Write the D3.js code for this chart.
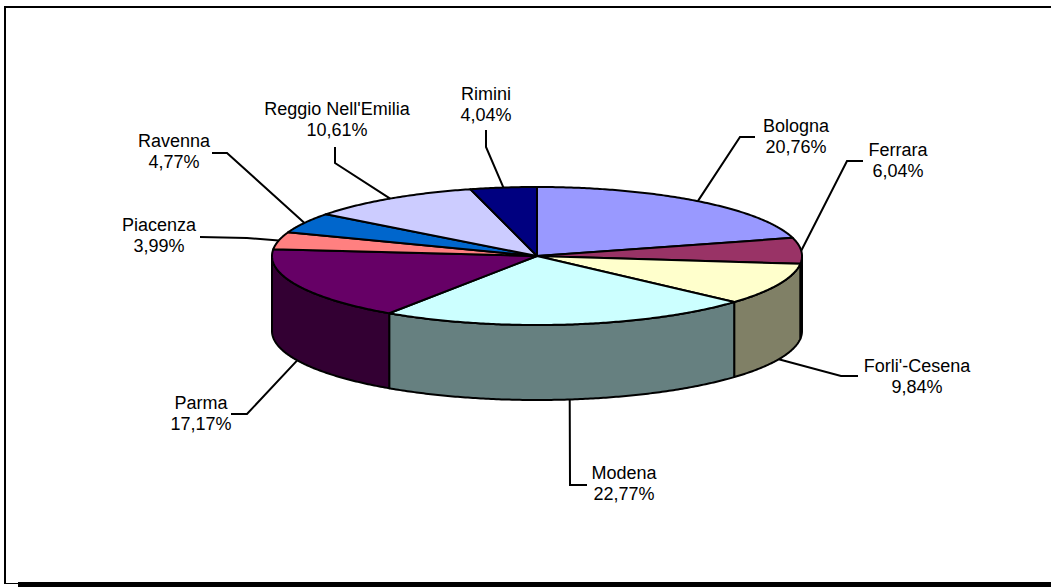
<!DOCTYPE html>
<html>
<head>
<meta charset="utf-8">
<script src="https://cdn.jsdelivr.net/npm/d3@7/dist/d3.min.js"></script>
<style>
html,body{margin:0;padding:0;background:#fff;}
svg{display:block;}
text{font-family:"Liberation Sans",Arial,sans-serif;font-size:18px;fill:#000;}
</style>
</head>
<body>
<svg id="chart" width="1051" height="587"></svg>
<script>
// ---- data ----
const categories = ["Bologna","Ferrara","Forli'-Cesena","Modena","Parma","Piacenza","Ravenna","Reggio Nell'Emilia","Rimini"];
const values = [20.76, 6.04, 9.84, 22.77, 17.17, 3.99, 4.77, 10.61, 4.04];
const topColors = ["#9999FF","#993366","#FFFFCC","#CCFFFF","#660066","#FF8080","#0066CC","#CCCCFF","#000080"];
const sideColors = ["#4D4D80","#4D1A33","#808066","#668080","#330033","#804040","#003366","#666680","#000040"];

// ---- label layout (text centre x, first baseline y, elbow, end of leader) ----
const labelLayout = [
  {tx:796, ty:132, elbow:[740,137], end:[755,137]},
  {tx:898, ty:156, elbow:[847,161], end:[863,161]},
  {tx:917, ty:372, elbow:[841,376], end:[858,376]},
  {tx:624, ty:479, elbow:[570,485], end:[587,485]},
  {tx:201, ty:409, elbow:[247,414], end:[231,414]},
  {tx:159, ty:231, elbow:[247,238], end:[200,237]},
  {tx:174, ty:147, elbow:[227,153], end:[212,153]},
  {tx:337, ty:115, elbow:[335,163], end:[335,147]},
  {tx:486, ty:100, elbow:[486,147], end:[486,130]}
];

const W = 1051, H = 587;
const svg = d3.select("#chart");

// frame
svg.append("line").attr("x1",5).attr("y1",7).attr("x2",W).attr("y2",7).attr("stroke","#000").attr("stroke-width",2);
svg.append("line").attr("x1",5).attr("y1",6).attr("x2",5).attr("y2",584).attr("stroke","#000").attr("stroke-width",2);
svg.append("line").attr("x1",5).attr("y1",583.5).attr("x2",18).attr("y2",583.5).attr("stroke","#000").attr("stroke-width",1);
svg.append("rect").attr("x",18).attr("y",582).attr("width",W-18).attr("height",5).attr("fill","#000");

// pie geometry
const cx = 537, cy = 256, rx = 265, ry = 69, depth = 75;
const px = a => cx + rx * Math.sin(a);
const py = a => cy - ry * Math.cos(a);

const pie = d3.pie().sort(null).value(d => d.v).startAngle(0).endAngle(2*Math.PI);
const data = categories.map((c,i) => ({name:c, v:values[i], i}));
const arcs = pie(data);

const color = d3.scaleOrdinal().domain(categories).range(topColors);
const sideColor = d3.scaleOrdinal().domain(categories).range(sideColors);

const line = d3.line();
function arcPts(a0, a1, dy) {
  const n = Math.max(2, Math.ceil(Math.abs(a1 - a0) / 0.01));
  return d3.range(n + 1).map(k => {
    const a = a0 + (a1 - a0) * k / n;
    return [px(a), py(a) + dy];
  });
}

// sides (front half only)
const gSide = svg.append("g");
arcs.forEach(d => {
  const a0 = Math.max(d.startAngle, Math.PI/2);
  const a1 = Math.min(d.endAngle, 3*Math.PI/2);
  if (a1 <= a0) return;
  const pts = arcPts(a0, a1, 0).concat(arcPts(a1, a0, depth));
  gSide.append("path")
    .attr("d", line(pts) + "Z")
    .attr("fill", sideColor(d.data.name))
    .attr("stroke", "#000").attr("stroke-width", 2).attr("stroke-linejoin","round");
});

// top faces
const gTop = svg.append("g");
arcs.forEach(d => {
  const pts = [[cx, cy]].concat(arcPts(d.startAngle, d.endAngle, 0));
  gTop.append("path")
    .attr("d", line(pts) + "Z")
    .attr("fill", color(d.data.name))
    .attr("stroke", "#000").attr("stroke-width", 2).attr("stroke-linejoin","round");
});

// labels and leaders
const fmt = v => d3.format(".2f")(v).replace(".", ",") + "%";
const gLab = svg.append("g");
arcs.forEach((d, i) => {
  const L = labelLayout[i];
  const m = (d.startAngle + d.endAngle) / 2;
  const front = Math.cos(m) < 0;
  const start = [px(m), py(m) + (front ? depth : 0)];
  gLab.append("path")
    .attr("d", line([start, L.elbow, L.end]))
    .attr("fill", "none").attr("stroke", "#000").attr("stroke-width", 2);
  const t = gLab.append("text").attr("text-anchor", "middle");
  t.append("tspan").attr("x", L.tx).attr("y", L.ty).text(d.data.name);
  t.append("tspan").attr("x", L.tx).attr("y", L.ty + 21).text(fmt(d.data.v));
});
</script>
</body>
</html>
